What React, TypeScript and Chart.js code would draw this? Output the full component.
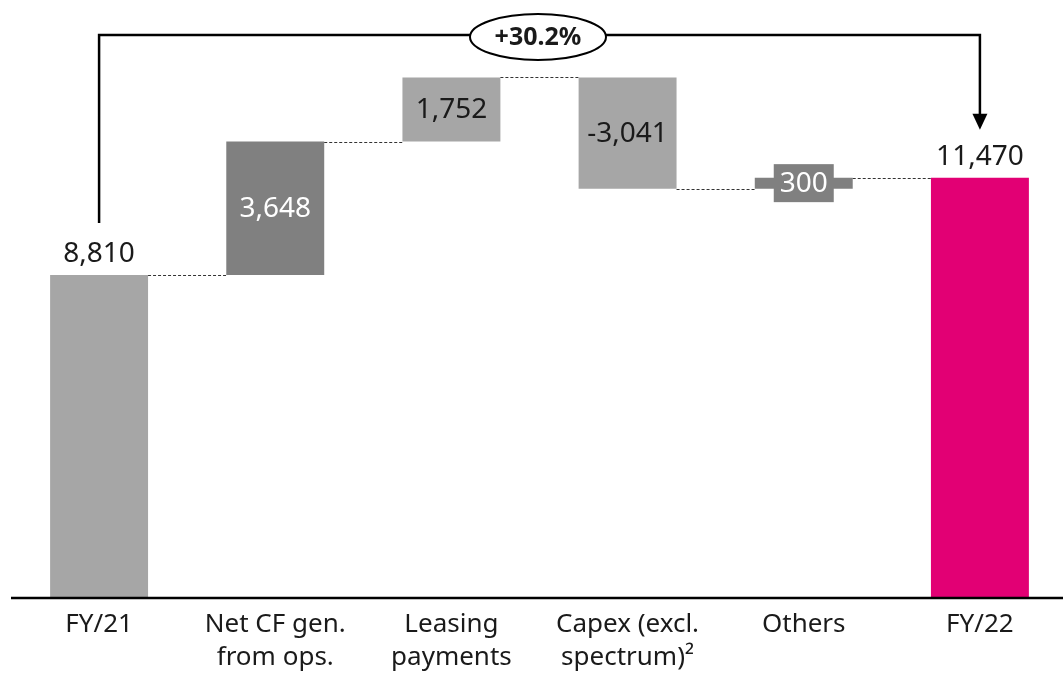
import React, { useEffect, useRef } from "react";
import { Chart, registerables } from "chart.js";
Chart.register(...registerables);

const categories: string[][] = [
  ["FY/21"],
  ["Net CF gen.", "from ops."],
  ["Leasing", "payments"],
  ["Capex (excl.", "spectrum)²"],
  ["Others"],
  ["FY/22"],
];
const startValue = 8810;
const deltas = [3648, 1752, -3041, 300];
const endValue = 11470;
const valueLabels = ["8,810", "3,648", "1,752", "-3,041", "300", "11,470"];
const growthLabel = "+30.2%";
const barColors = ["#a6a6a6", "#808080", "#a6a6a6", "#a6a6a6", "#808080", "#e20074"];

const FONT = "'Noto Sans', sans-serif";

function buildRanges(): [number, number][] {
  const r: [number, number][] = [[0, startValue]];
  let cur = startValue;
  for (const d of deltas) {
    const next = cur + d;
    r.push([Math.min(cur, next), Math.max(cur, next)]);
    cur = next;
  }
  r.push([0, endValue]);
  return r;
}

export default function App() {
  const ref = useRef<HTMLCanvasElement>(null);
  useEffect(() => {
    document.body.style.margin = "0";
    document.body.style.overflow = "hidden";
    const ranges = buildRanges();
    const overlay = {
      id: "overlay",
      afterDatasetsDraw(chart: any) {
        const ctx = chart.ctx;
        const meta = chart.getDatasetMeta(0);
        const y = chart.scales.y;
        const area = chart.chartArea;
        ctx.save();
        // axis line
        ctx.strokeStyle = "#000";
        ctx.lineWidth = 2.5;
        ctx.beginPath();
        ctx.moveTo(area.left, area.bottom + 1);
        ctx.lineTo(chart.width, area.bottom + 1);
        ctx.stroke();
        // connectors
        ctx.strokeStyle = "#333";
        ctx.lineWidth = 1;
        ctx.setLineDash([3, 2]);
        let cur = startValue;
        const levels: number[] = [startValue];
        for (const d of deltas) { cur += d; levels.push(cur); }
        for (let i = 0; i < meta.data.length - 1; i++) {
          const a = meta.data[i];
          const b = meta.data[i + 1];
          const yy = Math.round(y.getPixelForValue(levels[i])) + 0.5;
          ctx.beginPath();
          ctx.moveTo(a.x + a.width / 2, yy);
          ctx.lineTo(b.x - b.width / 2, yy);
          ctx.stroke();
        }
        ctx.setLineDash([]);
        // value labels
        ctx.textAlign = "center";
        ctx.textBaseline = "middle";
        ctx.font = `28px ${FONT}`;
        meta.data.forEach((bar: any, i: number) => {
          const top = y.getPixelForValue(ranges[i][1]);
          const bot = y.getPixelForValue(ranges[i][0]);
          if (i === 0 || i === meta.data.length - 1) {
            ctx.fillStyle = "#1a1a1a";
            ctx.fillText(valueLabels[i], bar.x, top - 21);
          } else if (bot - top < 40) {
            ctx.fillStyle = "#808080";
            const w = 60, h = 38;
            const cy = (top + bot) / 2;
            ctx.fillRect(bar.x - w / 2, cy - h / 2, w, h);
            ctx.fillStyle = "#fff";
            ctx.fillText(valueLabels[i], bar.x, cy + 1);
          } else {
            ctx.fillStyle = barColors[i] === "#808080" ? "#fff" : "#1a1a1a";
            ctx.fillText(valueLabels[i], bar.x, (top + bot) / 2 + 1);
          }
        });
        // category labels
        ctx.fillStyle = "#1a1a1a";
        ctx.font = `26px ${FONT}`;
        meta.data.forEach((bar: any, i: number) => {
          categories[i].forEach((line, j) => {
            ctx.fillText(line, bar.x, area.bottom + 28 + j * 33);
          });
        });
        // bracket
        const first = meta.data[0];
        const last = meta.data[meta.data.length - 1];
        const yTop = 35;
        const leftBottom = y.getPixelForValue(startValue) - 52;
        const tipY = y.getPixelForValue(endValue) - 48;
        ctx.strokeStyle = "#000";
        ctx.lineWidth = 2.5;
        ctx.beginPath();
        ctx.moveTo(first.x, leftBottom);
        ctx.lineTo(first.x, yTop);
        ctx.lineTo(last.x, yTop);
        ctx.lineTo(last.x, tipY - 14);
        ctx.stroke();
        ctx.fillStyle = "#000";
        ctx.beginPath();
        ctx.moveTo(last.x - 7.5, tipY - 16);
        ctx.lineTo(last.x + 7.5, tipY - 16);
        ctx.lineTo(last.x, tipY);
        ctx.closePath();
        ctx.fill();
        const cx = 538;
        ctx.fillStyle = "#fff";
        ctx.lineWidth = 2;
        ctx.beginPath();
        ctx.ellipse(cx, 37, 68, 23, 0, 0, Math.PI * 2);
        ctx.fill();
        ctx.stroke();
        ctx.fillStyle = "#1a1a1a";
        ctx.font = `bold 25px ${FONT}`;
        ctx.fillText(growthLabel, cx, 38);
        ctx.restore();
      },
    };
    const chart = new Chart(ref.current!, {
      type: "bar",
      data: {
        labels: categories.map((c) => c.join(" ")),
        datasets: [
          {
            data: ranges as any,
            backgroundColor: barColors,
            barPercentage: 0.556,
            categoryPercentage: 1,
            borderSkipped: false,
          },
        ],
      },
      options: {
        responsive: false,
        animation: false,
        layout: { padding: { left: 11, right: 12, top: 12, bottom: 78 } },
        plugins: { legend: { display: false }, tooltip: { enabled: false } },
        scales: {
          x: { display: false, offset: true },
          y: { display: false, min: 0, max: 16000 },
        },
      },
      plugins: [overlay],
    });
    return () => chart.destroy();
  }, []);
  return (
    <div style={{ position: "absolute", left: 0, top: 0, width: 1080, height: 675 }}>
      <canvas ref={ref} width={1080} height={675} style={{ width: 1080, height: 675 }} />
    </div>
  );
}
